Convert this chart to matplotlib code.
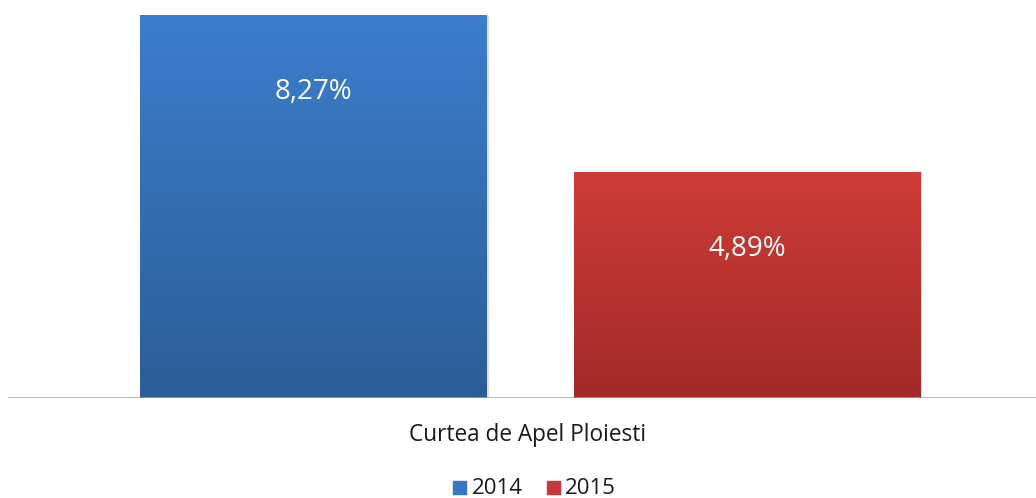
import matplotlib
matplotlib.use("Agg")
import matplotlib.pyplot as plt
import numpy as np
from matplotlib.colors import LinearSegmentedColormap

plt.rcParams["font.family"] = ["Open Sans", "DejaVu Sans"]

category = "Curtea de Apel Ploiesti"
years = ["2014", "2015"]
values = [8.27, 4.89]
labels = ["8,27%", "4,89%"]

# top / bottom colours of each bar's gradient
grad = [("#3c7ecc", "#2c5d98"), ("#ce3c38", "#a22a28")]
legend_col = ["#3a77c2", "#c6393a"]

W, H = 1036, 498
fig = plt.figure(figsize=(W / 100, H / 100), dpi=100, facecolor="white")
ax = fig.add_axes([8 / W, 100 / H, 1 - 8 / W, 398 / H])

px_per_unit = 383 / values[0]
unit = 433.5
width = 347 / unit

for i, (v, lab, (c_top, c_bot)) in enumerate(zip(values, labels, grad)):
    bar = ax.bar(i, v, width=width, color="none", edgecolor="none", zorder=2)[0]
    # light shadow
    ax.bar(i + 0.004, v, width=width, bottom=-0.03, color="#000000",
           alpha=0.12, edgecolor="none", zorder=1)
    cmap = LinearSegmentedColormap.from_list("g", [c_bot, c_top])
    grid = np.linspace(0, 1, 256).reshape(-1, 1)
    im = ax.imshow(grid, cmap=cmap, origin="lower", aspect="auto",
                   extent=(i - width / 2, i + width / 2, 0, v), zorder=2)
    im.set_clip_path(bar)
    ax.text(i, v - 77 / px_per_unit, lab, ha="center", va="center",
            color="white", fontsize=20, zorder=3)

ax.set_xlim(-(313.5 - 8) / unit, (1036 - 313.5) / unit)
ax.set_ylim(0, 398 / px_per_unit)
ax.set_axis_off()
ax.axhline(0, color="#a0a0a0", lw=1.8, zorder=4)

fig.text(528 / W, 1 - 435 / H, category, ha="center", va="center",
         fontsize=16.3, color="#1a1a1a")

# legend
base = 1 - 494 / H
for x_sq, x_txt, col, yr in [(453, 472, legend_col[0], years[0]),
                             (547, 565, legend_col[1], years[1])]:
    fig.patches.append(plt.Rectangle((x_sq / W, base), 13 / W, 13 / H,
                                     transform=fig.transFigure, color=col))
    fig.text(x_txt / W, base, yr, ha="left", va="baseline",
             fontsize=16, color="#1a1a1a")

fig.savefig("out.png", dpi=100, facecolor="white")
